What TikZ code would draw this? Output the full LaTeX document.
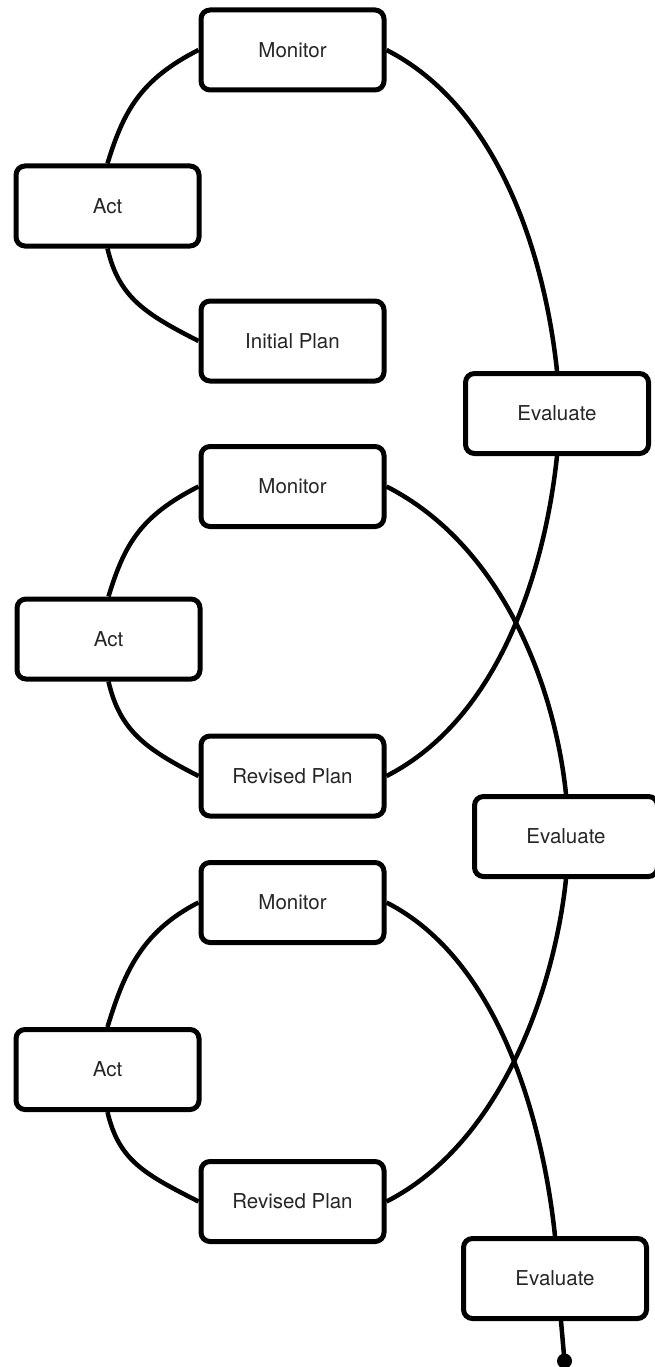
\documentclass[tikz,border=0pt]{standalone}
\usepackage{fontspec}
\setmainfont{TeX Gyre Heros}
\begin{document}
\begin{tikzpicture}[x=1pt,y=1pt,
  box/.style={draw=black, line width=5pt, rounded corners=9pt, fill=white,
    minimum width=183pt, minimum height=80pt, inner sep=0pt,
    font=\fontsize{20.5}{24}\selectfont, text=black!85},
  link/.style={line width=4.5pt, black},
  upl/.style={out=207, in=73, out distance=65pt, in distance=55pt},
  lowl/.style={out=-77, in=153, out distance=50pt, in distance=60pt},
  toeval/.style={out=-27, in=96, out distance=128pt, in distance=112pt},
  fromeval/.style={out=-96, in=27, out distance=112pt, in distance=128pt}]
\useasboundingbox (0,0) rectangle (654,-1367);
% section 1
\node[box] (M1) at (292.5,-50) {Monitor};
\node[box] (A1) at (107.5,-206) {Act};
\node[box] (P1) at (292.5,-341) {Initial Plan};
\node[box] (E1) at (557,-413.5) {Evaluate};
% section 2
\node[box] (M2) at (292.5,-486.5) {Monitor};
\node[box] (A2) at (108.5,-639) {Act};
\node[box] (P2) at (292.5,-776) {Revised Plan};
\node[box] (E2) at (566,-836.5) {Evaluate};
% section 3
\node[box] (M3) at (292.5,-902.5) {Monitor};
\node[box] (A3) at (107.5,-1069.5) {Act};
\node[box] (P3) at (292.5,-1201.5) {Revised Plan};
\node[box] (E3) at (555,-1278.5) {Evaluate};
\coordinate (end) at (564.5,-1361);
% connectors
\draw[link] (M1.west) to[upl] (A1.north);
\draw[link] (A1.south) to[lowl] (P1.west);
\draw[link] (M1.east) to[toeval] (E1.north);
\draw[link] (E1.south) to[fromeval] (P2.east);
\draw[link] (M2.west) to[upl] (A2.north);
\draw[link] (A2.south) to[lowl] (P2.west);
\draw[link] (M2.east) to[toeval] (E2.north);
\draw[link] (E2.south) to[fromeval] (P3.east);
\draw[link] (M3.west) to[upl] (A3.north);
\draw[link] (A3.south) to[lowl] (P3.west);
\draw[link] (M3.east) to[toeval] (E3.north);
\draw[link] ([xshift=6pt]E3.south) -- (end);
\fill[black] (end) circle (7.5pt);
\end{tikzpicture}
\end{document}
